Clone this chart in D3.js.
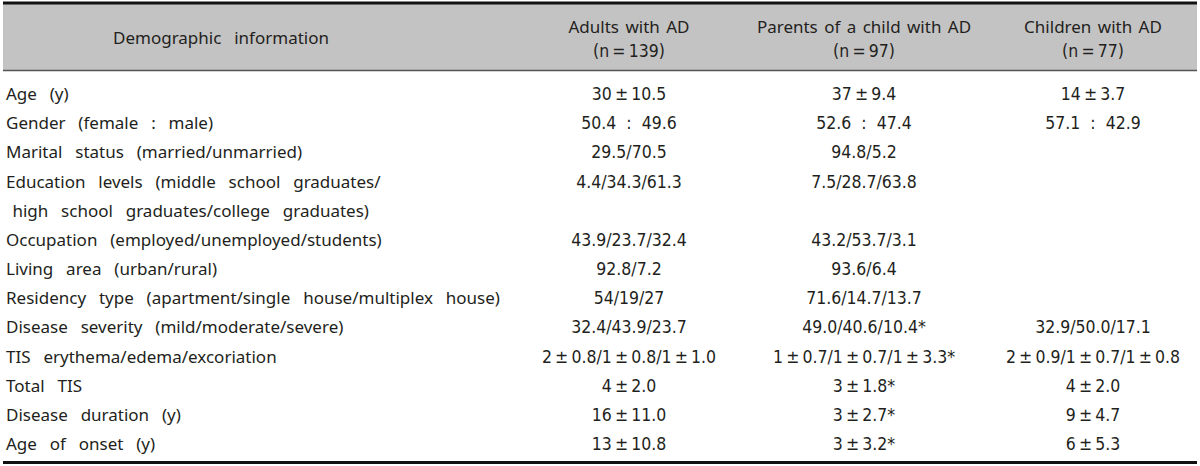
<!DOCTYPE html>
<html>
<head>
<meta charset="utf-8">
<script src="https://cdn.jsdelivr.net/npm/d3@7"></script>
<style>
  html, body { margin: 0; padding: 0; background: #fff; }
  svg { display: block; }
  .lbl { font-family: "Noto Sans", "Open Sans", sans-serif; font-size: 17px; fill: #231f20; word-spacing: 2px; }
  .val { font-family: "Liberation Sans Narrow", "DejaVu Sans Condensed", sans-serif; font-size: 17.5px; fill: #231f20; }
  .hdr { font-family: "Noto Sans", "Open Sans", sans-serif; font-size: 17px; fill: #231f20; word-spacing: 2px; }
</style>
</head>
<body>
<svg id="chart" width="1200" height="466"></svg>
<script>
// ---- data ----
const headerTitle = "Demographic  information";
const groups = ["Adults with AD", "Parents of a child with AD", "Children with AD"];
const groupN = ["(n\u2009=\u2009139)", "(n\u2009=\u200997)", "(n\u2009=\u200977)"];
const rowLabels = [
  ["Age  (y)"],
  ["Gender  (female  :  male)"],
  ["Marital  status  (married/unmarried)"],
  ["Education  levels  (middle  school  graduates/", " high  school  graduates/college  graduates)"],
  ["Occupation  (employed/unemployed/students)"],
  ["Living  area  (urban/rural)"],
  ["Residency  type  (apartment/single  house/multiplex  house)"],
  ["Disease  severity  (mild/moderate/severe)"],
  ["TIS  erythema/edema/excoriation"],
  ["Total  TIS"],
  ["Disease  duration  (y)"],
  ["Age  of  onset  (y)"]
];
const adults = ["30\u2009±\u200910.5", "50.4  :  49.6", "29.5/70.5", "4.4/34.3/61.3", "43.9/23.7/32.4", "92.8/7.2", "54/19/27", "32.4/43.9/23.7", "2\u2009±\u20090.8/1\u2009±\u20090.8/1\u2009±\u20091.0", "4\u2009±\u20092.0", "16\u2009±\u200911.0", "13\u2009±\u200910.8"];
const parents = ["37\u2009±\u20099.4", "52.6  :  47.4", "94.8/5.2", "7.5/28.7/63.8", "43.2/53.7/3.1", "93.6/6.4", "71.6/14.7/13.7", "49.0/40.6/10.4*", "1\u2009±\u20090.7/1\u2009±\u20090.7/1\u2009±\u20093.3*", "3\u2009±\u20091.8*", "3\u2009±\u20092.7*", "3\u2009±\u20093.2*"];
const children = ["14\u2009±\u20093.7", "57.1  :  42.9", "", "", "", "", "", "32.9/50.0/17.1", "2\u2009±\u20090.9/1\u2009±\u20090.7/1\u2009±\u20090.8", "4\u2009±\u20092.0", "9\u2009±\u20094.7", "6\u2009±\u20095.3"];
const columns = [adults, parents, children];

// ---- layout ----
const W = 1200, H = 466;
const svg = d3.select("#chart");

// column centre scale
const xCol = d3.scaleOrdinal().domain(groups).range([629, 864, 1093]);
const labelX = 6;

// line index -> baseline y (13 text lines including wrapped line)
let lineIdx = [];
let k = 0;
rowLabels.forEach((ls, i) => { lineIdx.push(k); k += ls.length; });
const nLines = k;
const yLine = d3.scaleLinear().domain([0, nLines - 1]).range([100, 450]);

// header band
svg.append("rect").attr("x", 3).attr("y", 4).attr("width", W - 6).attr("height", 66).attr("fill", "#c3c3c3");
svg.append("line").attr("x1", 3).attr("x2", W - 3).attr("y1", 3).attr("y2", 3).attr("stroke", "#111").attr("stroke-width", 3);
svg.append("line").attr("x1", 3).attr("x2", W - 3).attr("y1", 70.5).attr("y2", 70.5).attr("stroke", "#555").attr("stroke-width", 1.5);
svg.append("line").attr("x1", 3).attr("x2", W - 3).attr("y1", 462.5).attr("y2", 462.5).attr("stroke", "#111").attr("stroke-width", 3);

// header texts
svg.append("text").attr("class", "hdr").attr("x", 221).attr("y", 44)
  .attr("text-anchor", "middle").style("white-space", "pre").text(headerTitle);
const hg = svg.selectAll("g.hcol").data(groups).join("g").attr("class", "hcol");
hg.append("text").attr("class", "hdr").attr("x", d => xCol(d)).attr("y", 33).attr("text-anchor", "middle").text(d => d);
hg.append("text").attr("class", "val").attr("x", d => xCol(d)).attr("y", 57).attr("text-anchor", "middle").text((d, i) => groupN[i]);

// row labels
const rows = svg.selectAll("g.row").data(rowLabels).join("g").attr("class", "row");
rows.each(function(ls, i) {
  d3.select(this).selectAll("text").data(ls).join("text")
    .attr("class", "lbl").attr("x", labelX)
    .attr("y", (d, j) => yLine(lineIdx[i] + j))
    .style("white-space", "pre")
    .text(d => d);
});

// values
columns.forEach((col, c) => {
  svg.selectAll("text.v" + c).data(col).join("text")
    .attr("class", "val v" + c)
    .attr("x", xCol(groups[c]))
    .attr("y", (d, i) => yLine(lineIdx[i]))
    .attr("text-anchor", "middle")
    .style("white-space", "pre")
    .text(d => d);
});
</script>
</body>
</html>
